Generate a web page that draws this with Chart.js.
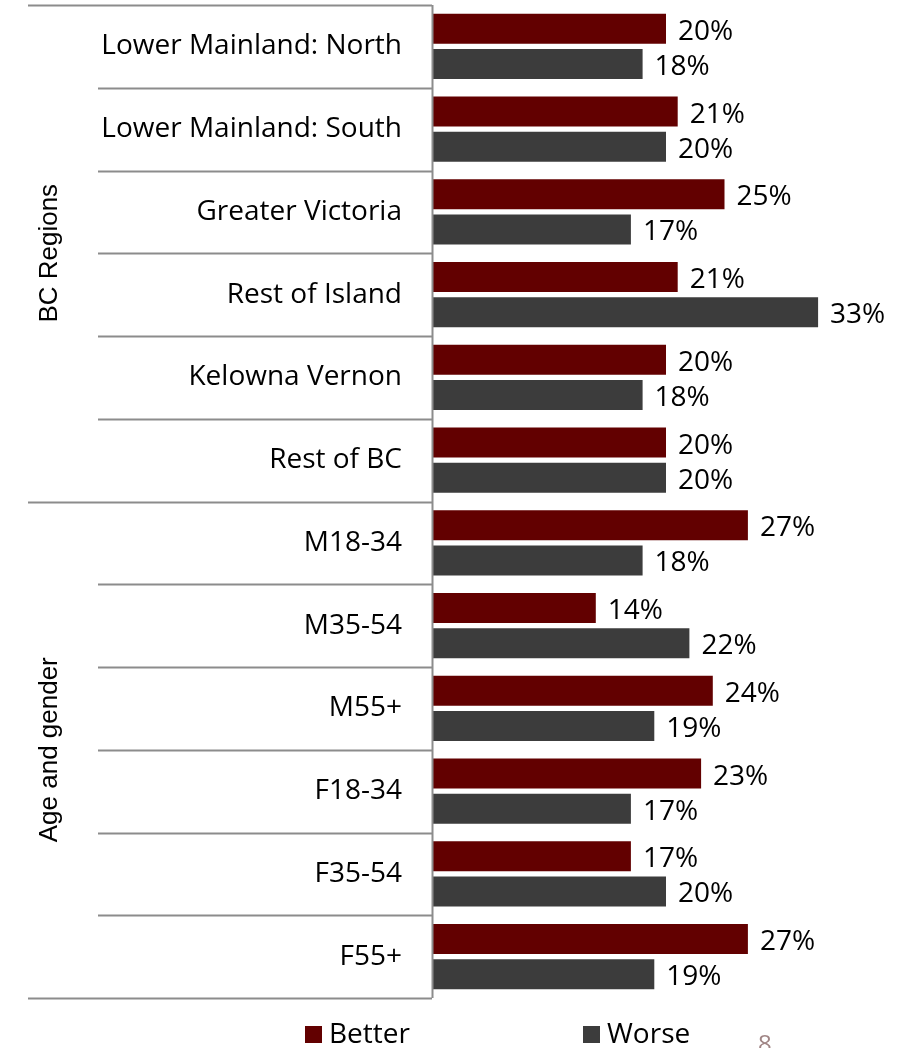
<!DOCTYPE html>
<html>
<head>
<meta charset="utf-8">
<script src="https://cdn.jsdelivr.net/npm/chart.js"></script>
<style>
  html, body { margin: 0; padding: 0; background: #fff; }
  #wrap { width: 914px; height: 1048px; }
</style>
</head>
<body>
<div id="wrap"><canvas id="chart" width="914" height="1048"></canvas></div>
<script>
// categories, top to bottom
const categories = [
  "Lower Mainland: North", "Lower Mainland: South", "Greater Victoria",
  "Rest of Island", "Kelowna Vernon", "Rest of BC",
  "M18-34", "M35-54", "M55+", "F18-34", "F35-54", "F55+"
];
const betterValues = [20, 21, 25, 21, 20, 20, 27, 14, 24, 23, 17, 27];
const worseValues  = [18, 20, 17, 33, 18, 20, 18, 22, 19, 17, 20, 19];
// group label, first and last category index
const groups = [
  { label: "BC Regions", from: 0, to: 5 },
  { label: "Age and gender", from: 6, to: 11 }
];
const pageNumber = "8";

const labelFont = '28px "Open Sans", sans-serif';

// separator lines, group labels, value labels and legend
const decorPlugin = {
  id: 'decor',
  afterDraw(chart) {
    const ctx = chart.ctx;
    const y = chart.scales.y;
    const area = chart.chartArea;
    const half = (y.getPixelForValue(1) - y.getPixelForValue(0)) / 2;
    const groupStarts = groups.map(g => g.from);

    ctx.save();
    ctx.strokeStyle = '#8c8c8c';
    ctx.lineWidth = 2;
    // horizontal separators
    for (let i = 0; i <= categories.length; i++) {
      const py = Math.round(y.getPixelForValue(i) - half) + 0.5;
      const isGroupEdge = groupStarts.includes(i) || i === categories.length;
      ctx.beginPath();
      ctx.moveTo(isGroupEdge ? 28 : 98, py);
      ctx.lineTo(area.left, py);
      ctx.stroke();
    }
    // vertical axis line
    ctx.beginPath();
    ctx.moveTo(area.left + 0.5, area.top);
    ctx.lineTo(area.left + 0.5, area.bottom);
    ctx.stroke();

    // group labels (rotated)
    ctx.fillStyle = '#000';
    ctx.font = '26px "Liberation Sans", Arial, sans-serif';
    ctx.textAlign = 'center';
    ctx.textBaseline = 'middle';
    groups.forEach(g => {
      const cy = (y.getPixelForValue(g.from) + y.getPixelForValue(g.to)) / 2;
      ctx.save();
      ctx.translate(50, cy);
      ctx.rotate(-Math.PI / 2);
      ctx.fillText(g.label, 0, 0);
      ctx.restore();
    });

    // value labels
    ctx.font = labelFont;
    ctx.textAlign = 'left';
    ctx.textBaseline = 'middle';
    chart.data.datasets.forEach((ds, di) => {
      chart.getDatasetMeta(di).data.forEach((bar, i) => {
        ctx.fillText(ds.data[i] + '%', bar.x + 12, bar.y + 3);
      });
    });

    // legend
    const legendX = [305, 583];
    chart.data.datasets.forEach((ds, di) => {
      ctx.fillStyle = ds.backgroundColor;
      ctx.fillRect(legendX[di], 1026, 17, 17);
      ctx.fillStyle = '#000';
      ctx.fillText(ds.label, legendX[di] + 24, 1035);
    });

    // page number, cut by the bottom edge
    ctx.fillStyle = '#a08585';
    ctx.font = '24px "Open Sans", sans-serif';
    ctx.textBaseline = 'top';
    ctx.fillText(pageNumber, 758, 1033);
    ctx.restore();
  }
};

new Chart(document.getElementById('chart'), {
  type: 'bar',
  data: {
    labels: categories,
    datasets: [
      { label: 'Better', data: betterValues, backgroundColor: '#620000' },
      { label: 'Worse', data: worseValues, backgroundColor: '#3c3c3c' }
    ]
  },
  options: {
    indexAxis: 'y',
    responsive: false,
    animation: false,
    datasets: {
      bar: { categoryPercentage: 0.85, barPercentage: 0.85 }
    },
    layout: { padding: { top: 5, bottom: 50, right: 14, left: 0 } },
    plugins: {
      legend: { display: false },
      tooltip: { enabled: false }
    },
    scales: {
      x: {
        min: 0,
        max: 40,
        display: false,
        grid: { display: false }
      },
      y: {
        grid: { display: false },
        border: { display: false },
        afterFit(scale) {
          scale.width = 432;
          scale.paddingTop = 0;
          scale.paddingBottom = 0;
        },
        ticks: {
          color: '#000',
          font: { family: '"Open Sans", sans-serif', size: 28 },
          padding: 22
        }
      }
    }
  },
  plugins: [decorPlugin]
});
</script>
</body>
</html>
